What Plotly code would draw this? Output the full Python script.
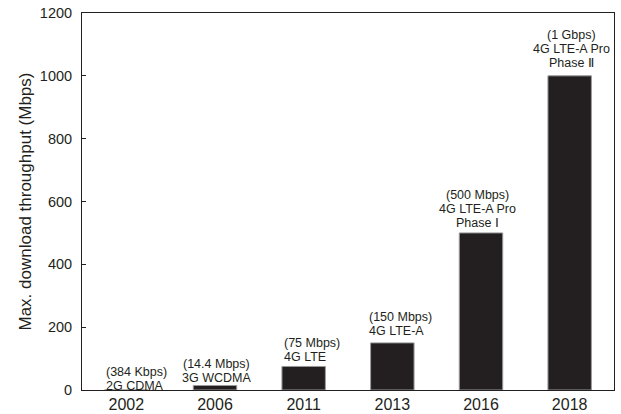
import plotly.graph_objects as go

years = ["2002", "2006", "2011", "2013", "2016", "2018"]
throughput_mbps = [0.384, 14.4, 75, 150, 500, 1000]
label_lines = [
    ["(384 Kbps)", "2G CDMA"],
    ["(14.4 Mbps)", "3G WCDMA"],
    ["(75 Mbps)", "4G LTE"],
    ["(150 Mbps)", "4G LTE-A"],
    ["(500 Mbps)", "4G LTE-A Pro", "Phase Ⅰ"],
    ["(1 Gbps)", "4G LTE-A Pro", "Phase Ⅱ"],
]
y_ticks = [0, 200, 400, 600, 800, 1000, 1200]

# label placement (style): anchor, x offset px, gap above bar px
label_anchor = ["left", "center", "left", "left", "center", "center"]
label_xshift = [-22.7, 1.5, -22, -25.5, -3.5, 1.5]
label_gap = [4, 7.5, 9.4, 12, 10, 13]
line_step = 14

FONT = "Liberation Sans, Arial, Helvetica, sans-serif"

fig = go.Figure()
fig.add_trace(go.Bar(
    x=years, y=throughput_mbps,
    marker=dict(color="#231f20", line=dict(color="#9a9a9a", width=1)),
    width=0.49,
    hoverinfo="x+y",
))

for i, lines in enumerate(label_lines):
    n = len(lines)
    for j, txt in enumerate(lines):
        k = n - 1 - j  # index from bottom
        fig.add_annotation(
            x=i, y=throughput_mbps[i], xref="x", yref="y",
            text=txt, showarrow=False,
            xanchor=label_anchor[i], yanchor="middle",
            xshift=label_xshift[i],
            yshift=label_gap[i] + k * line_step,
            font=dict(family=FONT, size=12.5, color="#231f20"),
        )

fig.add_annotation(
    x=0, y=0.5, xref="paper", yref="paper",
    xanchor="center", yanchor="middle", xshift=-57, yshift=0,
    text="Max. download throughput (Mbps)", textangle=-90, showarrow=False,
    font=dict(family=FONT, size=17, color="#231f20"),
)

fig.update_layout(
    width=621, height=414,
    margin=dict(l=82, r=7, t=13, b=24),
    paper_bgcolor="white", plot_bgcolor="white",
    showlegend=False,
    font=dict(family=FONT, color="#231f20"),
)
fig.update_xaxes(
    type="category", range=[-0.5, len(years) - 0.5], automargin=False,
    showline=True, mirror=True, linecolor="#231f20", linewidth=1,
    ticks="", showgrid=False, tickfont=dict(size=16, color="#231f20"),
)
fig.update_yaxes(
    range=[0, 1200], tickvals=y_ticks, automargin=False, showline=True, mirror=True,
    linecolor="#231f20", linewidth=1, ticks="inside", ticklen=4, tickcolor="#231f20",
    showgrid=False, zeroline=False, tickfont=dict(size=14.5, color="#231f20"),
    ticklabelstandoff=6,
)

fig.write_html(
    "out.html",
    config={"displayModeBar": False},
    post_script="document.body.style.margin='0';document.body.style.overflow='hidden';",
)
